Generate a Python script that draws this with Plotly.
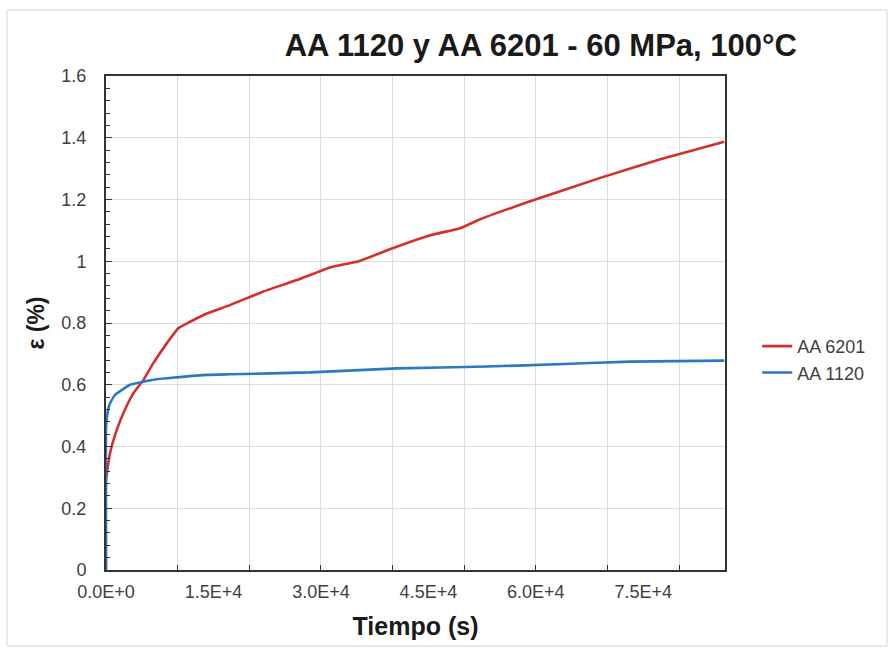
import plotly.graph_objects as go

# AA 6201 (red)
t_6201 = [0, 0, 560, 1490, 2420, 3810, 5210, 6610, 8480, 10100, 11730, 14060, 17300,
          21970, 26630, 31280, 35240, 39900, 45250, 49440, 52230, 55960, 59200, 69000,
          77370, 86300]
e_6201 = [0, 0.29, 0.378, 0.453, 0.508, 0.572, 0.615, 0.67, 0.734, 0.783, 0.804, 0.831, 0.858,
          0.902, 0.939, 0.980, 1.0, 1.041, 1.084, 1.107, 1.136, 1.168, 1.194, 1.27,
          1.33, 1.387]

# AA 1120 (blue)
t_1120 = [0, 0, 0, 300, 560, 1260, 2650, 3350, 5210, 7040, 9820, 14060, 17320, 28490,
          40600, 53170, 63870, 73180, 86300]
e_1120 = [0, 0.30, 0.46, 0.52, 0.54, 0.567, 0.590, 0.600, 0.61, 0.618, 0.624, 0.632, 0.634, 0.640,
          0.653, 0.659, 0.667, 0.675, 0.678]

x_label_vals = [0, 15000, 30000, 45000, 60000, 75000]
x_label_text = ["0.0E+0", "1.5E+4", "3.0E+4", "4.5E+4", "6.0E+4", "7.5E+4"]
y_tick_vals = [0, 0.2, 0.4, 0.6, 0.8, 1.0, 1.2, 1.4, 1.6]
y_tick_text = ["0", "0.2", "0.4", "0.6", "0.8", "1", "1.2", "1.4", "1.6"]

FONT = "Arial, Liberation Sans, sans-serif"
XMAX = 86400

fig = go.Figure()
fig.add_trace(go.Scatter(x=t_6201, y=e_6201, mode="lines", name="AA 6201",
                         line=dict(color="#D42F2A", width=2.6, shape="spline", smoothing=0.4)))
fig.add_trace(go.Scatter(x=t_1120, y=e_1120, mode="lines", name="AA 1120",
                         line=dict(color="#2B78C0", width=2.6, shape="spline", smoothing=0.4)))
# invisible trace to carry the label axis
fig.add_trace(go.Scatter(x=[0], y=[0], xaxis="x2", mode="markers",
                         marker=dict(opacity=0), showlegend=False, hoverinfo="skip"))

fig.update_layout(
    width=888, height=650,
    margin=dict(l=106, r=163, t=76, b=80),
    paper_bgcolor="white", plot_bgcolor="white",
    font=dict(family=FONT, color="#404040"),
    title=dict(text="<b>AA 1120 y AA 6201 - 60 MPa, 100°C</b>",
               x=0.609, xanchor="center", xref="container",
               y=1 - 45 / 650, yanchor="middle", yref="container",
               font=dict(family=FONT, size=31, color="#1a1a1a")),
    xaxis=dict(range=[0, XMAX], dtick=10000, tick0=0, showticklabels=False,
               showgrid=True, gridcolor="#dcdcdc", gridwidth=1, zeroline=False,
               ticks="inside", ticklen=5, tickcolor="#333", tickwidth=1,
               showline=True, linecolor="#333", linewidth=2, mirror=True),
    xaxis2=dict(range=[0, XMAX], overlaying="x", anchor="y", side="bottom",
                tickmode="array", tickvals=x_label_vals, ticktext=x_label_text,
                ticks="", showgrid=False, zeroline=False, showline=False,
                tickfont=dict(family=FONT, size=18, color="#404040"),
                ticklabelstandoff=9,
                title=dict(text="<b>Tiempo (s)</b>", standoff=16,
                           font=dict(family=FONT, size=25, color="#1a1a1a"))),
    yaxis=dict(range=[0, 1.6], tickmode="array", tickvals=y_tick_vals, ticktext=y_tick_text,
               showgrid=True, gridcolor="#dcdcdc", gridwidth=1, zeroline=False,
               ticks="inside", ticklen=6, tickcolor="#333",
               minor=dict(dtick=0.04, tick0=0, ticks="inside", ticklen=4, tickcolor="#333",
                          showgrid=False),
               showline=True, linecolor="#333", linewidth=2, mirror=True,
               tickfont=dict(family=FONT, size=18, color="#404040"),
               ticklabelstandoff=14,
               title=dict(text="<b>ε (%)</b>", standoff=10,
                          font=dict(family=FONT, size=23, color="#1a1a1a"))),
    legend=dict(x=1.052, y=0.49, xanchor="left", yanchor="top",
                font=dict(family=FONT, size=18, color="#404040"),
                itemwidth=30, bgcolor="rgba(0,0,0,0)", tracegroupgap=0),
    showlegend=True,
)

fig.add_shape(type="rect", xref="paper", yref="paper",
              x0=(7 - 106) / 619, x1=(887 - 106) / 619,
              y0=(570 - 646) / 494, y1=(570 - 10) / 494,
              line=dict(color="#d6d6d6", width=1), fillcolor="rgba(0,0,0,0)", layer="below")

fig.write_html("out.html")
